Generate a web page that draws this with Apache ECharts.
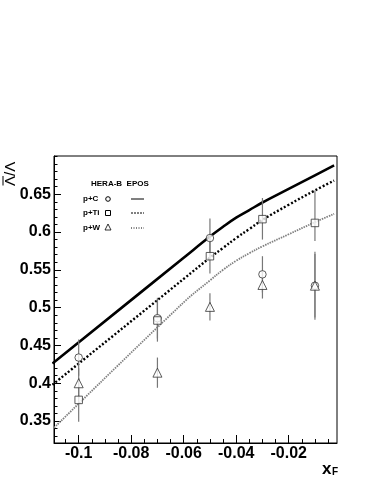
<!DOCTYPE html>
<html><head><meta charset="utf-8">
<script src="https://cdn.jsdelivr.net/npm/echarts@6/dist/echarts.min.js"></script>
<style>html,body{margin:0;padding:0;background:#fff}#c{width:370px;height:479px}</style>
</head><body><div id="c"></div>
<script>
// ---- data ----
const xTicksMajor = [-0.1, -0.08, -0.06, -0.04, -0.02];
const xTicksMinor = [-0.105, -0.1, -0.095, -0.09, -0.085, -0.08, -0.075, -0.07, -0.065, -0.06, -0.055, -0.05, -0.045, -0.04, -0.035, -0.03, -0.025, -0.02, -0.015, -0.01, -0.005];
const yTicksMajor = [0.35, 0.4, 0.45, 0.5, 0.55, 0.6, 0.65];
const yTicksMinor = [0.33, 0.34, 0.35, 0.36, 0.37, 0.38, 0.39, 0.4, 0.41, 0.42, 0.43, 0.44, 0.45, 0.46, 0.47, 0.48, 0.49, 0.5, 0.51, 0.52, 0.53, 0.54, 0.55, 0.56, 0.57, 0.58, 0.59, 0.6, 0.61, 0.62, 0.63, 0.64, 0.65, 0.66, 0.67, 0.68, 0.69, 0.7];

const xPoints = [-0.1, -0.07, -0.05, -0.03, -0.01];
const pC   = [0.434, 0.486, 0.592, 0.544, 0.529];
const pCErr = [0.024, 0.027, 0.026, 0.024, 0.045];
const pTi  = [0.378, 0.483, 0.568, 0.617, 0.612];
const pTiErrLo = [0.029, 0.028, 0.023, 0.027, 0.024];
const pTiErrHi = [0.029, 0.028, 0.023, 0.028, 0.043];
const pW   = [0.400, 0.414, 0.501, 0.530, 0.529];
const pWErr = [0.020, 0.020, 0.018, 0.018, 0.042];

const curveX = [-0.11, -0.06, -0.05, -0.045, -0.04, -0.035, -0.03, -0.02, -0.01, -0.0027];
const eposC  = [0.426, 0.566, 0.594, 0.607, 0.619, 0.629, 0.639, 0.657, 0.675, 0.688];
const eposTi = [0.398, 0.538, 0.566, 0.579, 0.592, 0.604, 0.616, 0.636, 0.655, 0.668];
const eposW  = [0.339, 0.507, 0.536, 0.550, 0.562, 0.572, 0.581, 0.597, 0.613, 0.624];

// ---- chart ----
const XMIN = -0.1094, XMAX = -0.0016, YMIN = 0.321, YMAX = 0.7005;
const FONT = 'Liberation Sans, Arial, Helvetica, sans-serif';
const chart = echarts.init(document.getElementById('c'), null, {renderer: 'canvas'});

function zip(xs, ys) { return xs.map((x, i) => [x, ys[i]]); }
function errData(ys, lo, hi) { return xPoints.map((x, i) => [x, ys[i] - lo[i], ys[i] + hi[i]]); }

const errRender = function (params, api) {
  const p1 = api.coord([api.value(0), api.value(1)]);
  const p2 = api.coord([api.value(0), api.value(2)]);
  return {type: 'line', shape: {x1: p1[0], y1: p1[1], x2: p2[0], y2: p2[1]},
          style: {stroke: '#777', lineWidth: 1.2}};
};

const axisTxt = {fontFamily: FONT, fontWeight: 'bold', fontSize: 16, color: '#000'};

chart.setOption({
  animation: false,
  grid: {left: 54, top: 156, right: 33, bottom: 36, show: true, borderColor: '#000', borderWidth: 1},
  xAxis: [
    {type: 'value', min: XMIN, max: XMAX, splitLine: {show: false},
     axisLine: {show: true, onZero: false, lineStyle: {color: '#000', width: 1}},
     axisTick: {show: true, inside: true, length: 8, customValues: xTicksMajor, lineStyle: {color: '#000'}},
     axisLabel: Object.assign({customValues: xTicksMajor, margin: 3}, axisTxt)},
    {type: 'value', min: XMIN, max: XMAX, position: 'bottom', splitLine: {show: false},
     axisLine: {show: false},
     axisTick: {show: true, inside: true, length: 4, customValues: xTicksMinor, lineStyle: {color: '#000'}},
     axisLabel: {show: false}}
  ],
  yAxis: [
    {type: 'value', min: YMIN, max: YMAX, splitLine: {show: false},
     axisLine: {show: true, onZero: false, lineStyle: {color: '#000', width: 1}},
     axisTick: {show: true, inside: true, length: 7, customValues: yTicksMajor, lineStyle: {color: '#000'}},
     axisLabel: Object.assign({customValues: yTicksMajor, margin: 3}, axisTxt)},
    {type: 'value', min: YMIN, max: YMAX, position: 'left', splitLine: {show: false},
     axisLine: {show: false},
     axisTick: {show: true, inside: true, length: 3.5, customValues: yTicksMinor, lineStyle: {color: '#000'}},
     axisLabel: {show: false}}
  ],
  series: [
    {type: 'line', data: zip(curveX, eposW), showSymbol: false, clip: true, z: 2, smooth: 0.4,
     lineStyle: {color: '#808080', width: 1.8, type: [1.5, 1]}},
    {type: 'line', data: zip(curveX, eposTi), showSymbol: false, clip: true, z: 2, smooth: 0.4,
     lineStyle: {color: '#000', width: 2.4, type: [2, 2]}},
    {type: 'line', data: zip(curveX, eposC), showSymbol: false, clip: true, z: 2, smooth: 0.4,
     lineStyle: {color: '#000', width: 2.6}},
    {type: 'custom', renderItem: errRender, data: errData(pC, pCErr, pCErr), z: 3, encode: {x: 0, y: [1, 2]}},
    {type: 'custom', renderItem: errRender, data: errData(pTi, pTiErrLo, pTiErrHi), z: 3, encode: {x: 0, y: [1, 2]}},
    {type: 'custom', renderItem: errRender, data: errData(pW, pWErr, pWErr), z: 3, encode: {x: 0, y: [1, 2]}},
    {type: 'scatter', data: zip(xPoints, pC), symbol: 'circle', symbolSize: 7.5, z: 4,
     itemStyle: {color: '#fff', borderColor: '#333', borderWidth: 1}},
    {type: 'scatter', data: zip(xPoints, pTi), symbol: 'rect', symbolSize: 7.5, z: 4,
     itemStyle: {color: '#fff', borderColor: '#333', borderWidth: 1}},
    {type: 'scatter', data: zip(xPoints, pW), symbol: 'triangle', symbolSize: 9, z: 4,
     itemStyle: {color: '#fff', borderColor: '#333', borderWidth: 1}}
  ],
  graphic: [
    // y title: overline-Lambda / Lambda, rotated
    {type: 'group', x: 18, y: 186, rotation: Math.PI / 2, children: [
      {type: 'text', x: 0, y: 0, style: {text: 'Λ/Λ', font: '15px ' + FONT, fill: '#000', textAlign: 'left', textVerticalAlign: 'bottom'}},
      {type: 'line', shape: {x1: 0.5, y1: -15, x2: 10, y2: -15}, style: {stroke: '#000', lineWidth: 1}}
    ]},
    // x title
    {type: 'text', x: 322, y: 461, style: {text: 'x', font: 'bold 17px ' + FONT, fill: '#000'}},
    {type: 'text', x: 332, y: 467, style: {text: 'F', font: 'bold 10px ' + FONT, fill: '#000'}},
    // legend
    {type: 'text', x: 91, y: 180, style: {text: 'HERA-B  EPOS', font: 'bold 8px ' + FONT, fill: '#000'}},
    {type: 'text', x: 83, y: 195, style: {text: 'p+C', font: 'bold 8px ' + FONT, fill: '#000'}},
    {type: 'text', x: 83, y: 209, style: {text: 'p+Ti', font: 'bold 8px ' + FONT, fill: '#000'}},
    {type: 'text', x: 83, y: 224, style: {text: 'p+W', font: 'bold 8px ' + FONT, fill: '#000'}},
    {type: 'circle', shape: {cx: 108, cy: 199, r: 2.3}, style: {fill: '#fff', stroke: '#000', lineWidth: 1}},
    {type: 'rect', shape: {x: 105.5, y: 210.5, width: 5, height: 5}, style: {fill: '#fff', stroke: '#000', lineWidth: 1}},
    {type: 'polygon', shape: {points: [[108, 224], [105, 230], [111, 230]]}, style: {fill: '#fff', stroke: '#000', lineWidth: 0.8}},
    {type: 'line', shape: {x1: 131, y1: 199, x2: 144, y2: 199}, style: {stroke: '#000', lineWidth: 1}},
    {type: 'line', shape: {x1: 131, y1: 213, x2: 144, y2: 213}, style: {stroke: '#000', lineWidth: 1, lineDash: [2, 1]}},
    {type: 'line', shape: {x1: 131, y1: 228, x2: 144, y2: 228}, style: {stroke: '#000', lineWidth: 1, lineDash: [1, 1.5]}}
  ]
});
</script></body></html>
